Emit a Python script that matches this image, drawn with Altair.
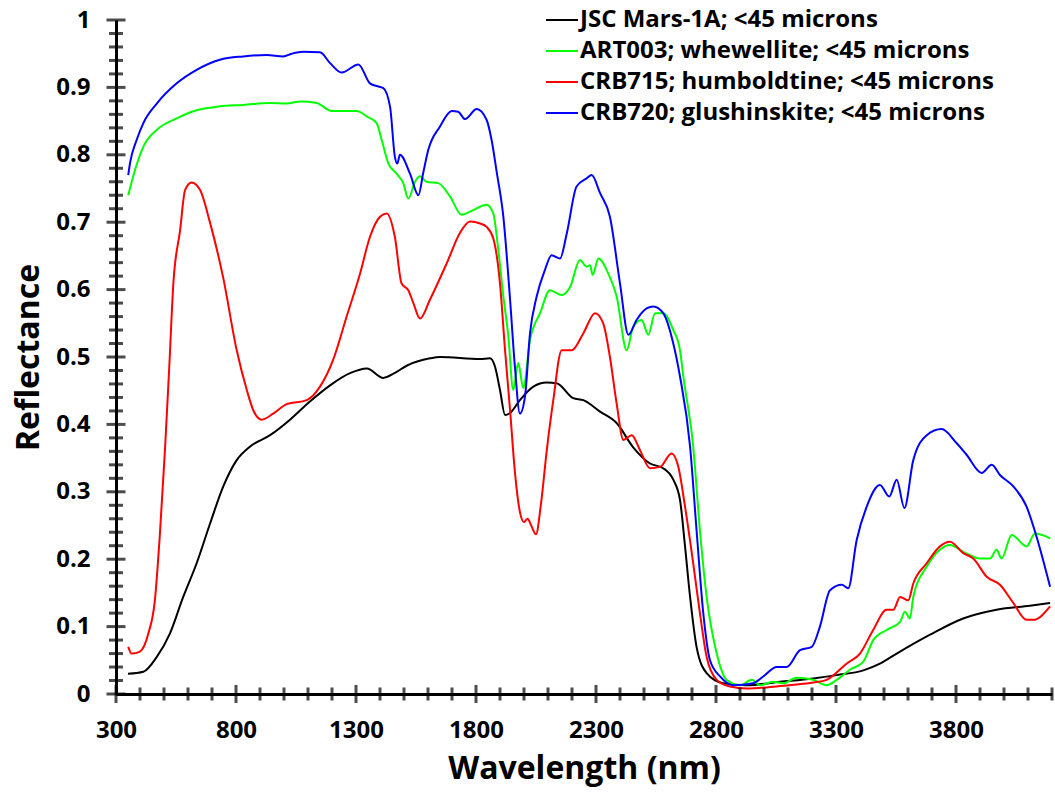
import altair as alt
import pandas as pd

series_names = [
    "JSC Mars-1A; <45 microns",
    "ART003; whewellite; <45 microns",
    "CRB715; humboldtine; <45 microns",
    "CRB720; glushinskite; <45 microns",
]
series_colors = ["#000000", "#00ff00", "#ff0000", "#0000ff"]

jsc_wl = [350, 414, 470, 525, 580, 636, 692, 747, 803, 858, 942, 1025, 1108, 1192, 1275, 1345, 1414, 1460,
          1511, 1608, 1650, 1817, 1858, 1879, 1900, 1921, 1942, 1983, 2039, 2095, 2136, 2205, 2247, 2317,
          2386, 2455, 2525, 2580, 2622, 2650, 2671, 2692, 2719, 2761, 2830, 2928, 3067, 3205, 3303, 3414,
          3483, 3553, 3692, 3830, 3969, 4108, 4192]
jsc_r = [0.03, 0.033, 0.055, 0.09, 0.144, 0.194, 0.253, 0.308, 0.347, 0.367, 0.384, 0.407, 0.434, 0.458, 0.476,
         0.483, 0.469, 0.476, 0.487, 0.498, 0.5, 0.497, 0.498, 0.486, 0.451, 0.414, 0.417, 0.436, 0.456, 0.462,
         0.461, 0.439, 0.436, 0.419, 0.402, 0.366, 0.342, 0.335, 0.318, 0.288, 0.219, 0.144, 0.07, 0.031, 0.016,
         0.013, 0.018, 0.023, 0.028, 0.035, 0.045, 0.06, 0.088, 0.112, 0.125, 0.131, 0.135]

art_wl = [351, 379, 414, 470, 553, 636, 733, 830, 942, 1011, 1067, 1136, 1199, 1303, 1345, 1386, 1407, 1435,
          1469, 1497, 1518, 1546, 1567, 1594, 1643, 1692, 1740, 1789, 1844, 1872, 1893, 1914, 1935, 1955,
          1976, 1997, 2025, 2067, 2108, 2157, 2192, 2233, 2261, 2275, 2286, 2310, 2351, 2386, 2428, 2455,
          2490, 2518, 2546, 2580, 2622, 2650, 2664, 2705, 2733, 2761, 2803, 2844, 2900, 2950, 2983, 3039,
          3080, 3136, 3205, 3261, 3303, 3358, 3414, 3455, 3511, 3567, 3587, 3608, 3622, 3678, 3733, 3775,
          3830, 3900, 3942, 3969, 3990, 4032, 4094, 4129, 4192]
art_r = [0.74, 0.777, 0.812, 0.837, 0.854, 0.866, 0.872, 0.874, 0.877, 0.876, 0.879, 0.877, 0.865, 0.865, 0.857,
         0.847, 0.822, 0.787, 0.772, 0.758, 0.735, 0.76, 0.768, 0.76, 0.758, 0.738, 0.711, 0.718, 0.726, 0.713,
         0.659, 0.59, 0.53, 0.451, 0.491, 0.454, 0.525, 0.565, 0.599, 0.592, 0.604, 0.644, 0.634, 0.636, 0.622,
         0.646, 0.624, 0.59, 0.51, 0.545, 0.555, 0.533, 0.565, 0.565, 0.54, 0.51, 0.471, 0.367, 0.243, 0.144,
         0.06, 0.021, 0.013, 0.021, 0.013, 0.018, 0.016, 0.024, 0.021, 0.013, 0.021, 0.036, 0.048, 0.08, 0.095,
         0.107, 0.122, 0.112, 0.144, 0.189, 0.214, 0.221, 0.211, 0.201, 0.201, 0.214, 0.201, 0.236, 0.219,
         0.238, 0.231]

hum_wl = [351, 365, 400, 435, 462, 483, 504, 522, 539, 567, 588, 615, 650, 692, 747, 803, 845, 872, 907, 955,
          1011, 1095, 1150, 1205, 1261, 1317, 1358, 1400, 1428, 1462, 1490, 1518, 1539, 1567, 1608, 1678,
          1733, 1775, 1817, 1844, 1872, 1900, 1921, 1942, 1962, 1983, 2000, 2015, 2030, 2050, 2070, 2095,
          2122, 2157, 2199, 2247, 2296, 2330, 2358, 2386, 2414, 2449, 2483, 2525, 2567, 2615, 2643, 2671,
          2705, 2733, 2761, 2803, 2858, 2928, 3067, 3205, 3261, 3344, 3400, 3455, 3511, 3539, 3567, 3601,
          3622, 3678, 3733, 3775, 3830, 3872, 3928, 3983, 4039, 4094, 4122, 4192]
hum_r = [0.07, 0.06, 0.063, 0.09, 0.139, 0.238, 0.362, 0.486, 0.609, 0.688, 0.748, 0.759, 0.748, 0.699, 0.617,
         0.51, 0.451, 0.421, 0.407, 0.416, 0.43, 0.436, 0.456, 0.496, 0.56, 0.624, 0.678, 0.708, 0.713, 0.678,
         0.609, 0.599, 0.58, 0.557, 0.585, 0.639, 0.684, 0.701, 0.698, 0.693, 0.676, 0.609, 0.51, 0.421, 0.33,
         0.27, 0.255, 0.26, 0.25, 0.237, 0.28, 0.362, 0.436, 0.51, 0.51, 0.535, 0.565, 0.55, 0.5, 0.431, 0.377,
         0.384, 0.362, 0.335, 0.337, 0.357, 0.337, 0.278, 0.194, 0.12, 0.055, 0.021, 0.011, 0.008, 0.012,
         0.017, 0.021, 0.045, 0.06, 0.095, 0.125, 0.125, 0.144, 0.139, 0.164, 0.194, 0.219, 0.226, 0.209,
         0.201, 0.174, 0.162, 0.135, 0.11, 0.11, 0.13]

glu_wl = [351, 358, 386, 414, 470, 553, 636, 733, 830, 928, 997, 1032, 1080, 1150, 1192, 1240, 1310, 1358,
          1386, 1414, 1442, 1462, 1472, 1483, 1525, 1560, 1580, 1601, 1650, 1699, 1726, 1754, 1803, 1844,
          1865, 1886, 1914, 1942, 1962, 1983, 2004, 2025, 2053, 2087, 2115, 2150, 2178, 2219, 2261, 2282,
          2317, 2358, 2400, 2435, 2469, 2511, 2539, 2580, 2622, 2650, 2692, 2719, 2747, 2775, 2817, 2872,
          2955, 2997, 3053, 3094, 3150, 3199, 3233, 3275, 3324, 3351, 3386, 3428, 3483, 3522, 3553, 3585,
          3622, 3678, 3740, 3803, 3844, 3907, 3949, 3983, 4039, 4094, 4136, 4192]
glu_r = [0.77, 0.787, 0.822, 0.847, 0.876, 0.906, 0.926, 0.941, 0.946, 0.948, 0.946, 0.95, 0.953, 0.952, 0.936,
         0.922, 0.934, 0.906, 0.902, 0.899, 0.871, 0.797, 0.787, 0.8, 0.772, 0.74, 0.773, 0.807, 0.842, 0.865,
         0.864, 0.853, 0.868, 0.852, 0.822, 0.775, 0.708, 0.585, 0.486, 0.416, 0.441, 0.535, 0.59, 0.629,
         0.651, 0.646, 0.683, 0.753, 0.765, 0.77, 0.743, 0.708, 0.609, 0.533, 0.555, 0.572, 0.575, 0.565,
         0.52, 0.471, 0.367, 0.243, 0.12, 0.05, 0.026, 0.013, 0.016, 0.026, 0.04, 0.04, 0.065, 0.07, 0.1,
         0.154, 0.162, 0.157, 0.228, 0.278, 0.31, 0.293, 0.318, 0.276, 0.347, 0.384, 0.393, 0.372, 0.355,
         0.328, 0.34, 0.325, 0.308, 0.278, 0.233, 0.159]

x_major = [300, 800, 1300, 1800, 2300, 2800, 3300, 3800]
x_minor = [v for v in range(400, 4201, 100) if (v - 300) % 500 != 0]
y_major = [round(0.1 * i, 1) for i in range(11)]
y_minor = [round(0.02 * i, 2) for i in range(51) if i % 5 != 0]

rows = []
for name, wls, rs in zip(series_names, [jsc_wl, art_wl, hum_wl, glu_wl], [jsc_r, art_r, hum_r, glu_r]):
    assert len(wls) == len(rs), (name, len(wls), len(rs))
    for w, r in zip(wls, rs):
        rows.append({"series": name, "wl": w, "r": r})
df = pd.DataFrame(rows)

FONT = "Open Sans"
xscale = alt.Scale(domain=[300, 4200], nice=False, zero=False)
yscale = alt.Scale(domain=[0, 1], nice=False, zero=True)

x_axis = alt.Axis(values=x_major, format="d", ticks=False, grid=False, domainWidth=3, domainColor="black",
                  labelFont=FONT, labelFontWeight="bold", labelFontSize=24, labelColor="black",
                  labelPadding=24, labelFlush=False,
                  title="Wavelength (nm)", titleFont=FONT, titleFontWeight="bold", titleFontSize=32,
                  titleColor="black", titleY=74, titleBaseline="middle")
y_axis = alt.Axis(values=y_major, format="~g", ticks=False, grid=False, domainWidth=3, domainColor="black",
                  labelFont=FONT, labelFontWeight="bold", labelFontSize=24, labelColor="black",
                  labelPadding=26, labelFlush=False,
                  title="Reflectance", titleFont=FONT, titleFontWeight="bold", titleFontSize=32,
                  titleColor="black", titleX=-88, titleY=337, titleAngle=270, titleBaseline="middle",
                  titleAlign="center")

lines = alt.Chart(df).mark_line(strokeWidth=2, interpolate="monotone").encode(
    x=alt.X("wl:Q", scale=xscale, axis=x_axis),
    y=alt.Y("r:Q", scale=yscale, axis=y_axis),
    color=alt.Color("series:N",
                    scale=alt.Scale(domain=series_names, range=series_colors),
                    sort=series_names,
                    legend=alt.Legend(title=None, orient="none", legendX=429, legendY=-17,
                                      symbolType="stroke", symbolSize=1024, symbolStrokeWidth=2,
                                      labelFont=FONT, labelFontSize=24, labelFontWeight="bold",
                                      labelColor="black", labelLimit=600, rowPadding=2,
                                      labelOffset=1, padding=0)),
    order=alt.Order("series:N"),
)

xt_major = alt.Chart(pd.DataFrame({"v": x_major})).mark_tick(
    orient="vertical", size=18, thickness=3, color="black").encode(
    x=alt.X("v:Q", scale=xscale), y=alt.datum(0))
xt_minor = alt.Chart(pd.DataFrame({"v": x_minor})).mark_tick(
    orient="vertical", size=13, thickness=3, color="black").encode(
    x=alt.X("v:Q", scale=xscale), y=alt.datum(0))
yt_major = alt.Chart(pd.DataFrame({"v": y_major})).mark_tick(
    orient="horizontal", size=19, thickness=3, color="black").encode(
    y=alt.Y("v:Q", scale=yscale), x=alt.datum(300))
yt_minor = alt.Chart(pd.DataFrame({"v": y_minor})).mark_tick(
    orient="horizontal", size=14, thickness=3, color="black").encode(
    y=alt.Y("v:Q", scale=yscale), x=alt.datum(300))

chart = alt.layer(lines, xt_minor, xt_major, yt_minor, yt_major).properties(
    width=936, height=674,
    autosize=alt.AutoSizeParams(type="none"),
    padding={"left": 116, "top": 20, "right": 3, "bottom": 98},
    background="white",
).configure_view(stroke=None)

chart.save("out.html", embed_options={"renderer": "svg", "actions": False})
